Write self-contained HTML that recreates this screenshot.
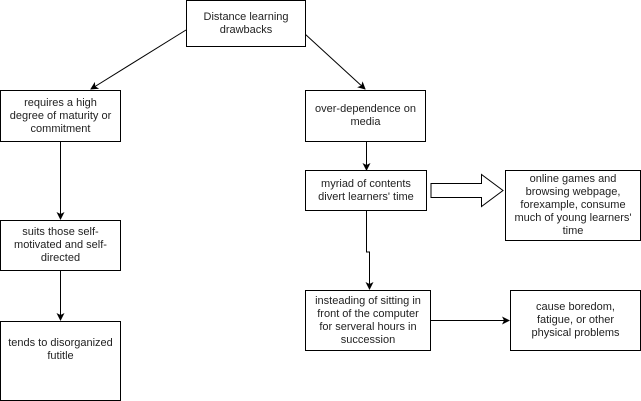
<!DOCTYPE html>
<html><head><style>
body{margin:0;width:641px;height:401px;background:#fff;position:relative;overflow:hidden;font-family:"Liberation Sans",Arial,sans-serif;}
.b{position:absolute;border:1px solid #000;box-sizing:border-box;display:flex;align-items:center;justify-content:center;text-align:center;font-size:11px;line-height:13px;color:#222;background:#fff;padding:0 6px;}
svg{position:absolute;left:0;top:0;}
</style></head><body>
<svg width="641" height="401">
<defs><marker id="a" markerWidth="8" markerHeight="8" refX="7" refY="4" orient="auto" markerUnits="userSpaceOnUse"><path d="M0,0 L8,4 L0,8 L2,4 z" fill="#000"/></marker></defs>
<g stroke="#000" stroke-width="1" fill="none">
<line x1="186" y1="30" x2="91" y2="89" marker-end="url(#a)"/>
<line x1="305" y1="34" x2="365" y2="89" marker-end="url(#a)"/>
<line x1="60.5" y1="141" x2="60.5" y2="219" marker-end="url(#a)"/>
<line x1="60.5" y1="270" x2="60.5" y2="320" marker-end="url(#a)"/>
<line x1="366.5" y1="141" x2="366.5" y2="170" marker-end="url(#a)"/>
<path d="M366.5,210 V252 H369.5 V289" marker-end="url(#a)"/>
<line x1="430" y1="320.5" x2="509" y2="320.5" marker-end="url(#a)"/>
<path d="M431,183.5 H481.5 V174.5 L503,190.5 L481.5,206.5 V197.5 H431 Z"/>
</g>
</svg>
<div class="b" style="left:186px;top:0;width:120px;height:47px;">Distance learning<br>drawbacks</div>
<div class="b" style="left:0;top:90px;width:121px;height:52px;">requires a high<br>degree of maturity or<br>commitment</div>
<div class="b" style="left:305px;top:90px;width:121px;height:52px;">over-dependence on<br>media</div>
<div class="b" style="left:305px;top:170px;width:122px;height:41px;">myriad of contents<br>divert learners' time</div>
<div class="b" style="left:505px;top:170px;width:136px;height:71px;padding:0;">online games and<br>browsing webpage,<br>forexample, consume<br>much of young learners'<br>time</div>
<div class="b" style="left:0;top:220px;width:121px;height:51px;">suits those self-<br>motivated and self-<br>directed</div>
<div class="b" style="left:0;top:321px;width:121px;height:80px;padding:0 0 22px 0;">tends to disorganized<br>futitle</div>
<div class="b" style="left:305px;top:290px;width:126px;height:61px;padding:0;">insteading of sitting in<br>front of the computer<br>for serveral hours in<br>succession</div>
<div class="b" style="left:510px;top:290px;width:131px;height:61px;">cause boredom,<br>fatigue, or other<br>physical problems</div>
</body></html>
